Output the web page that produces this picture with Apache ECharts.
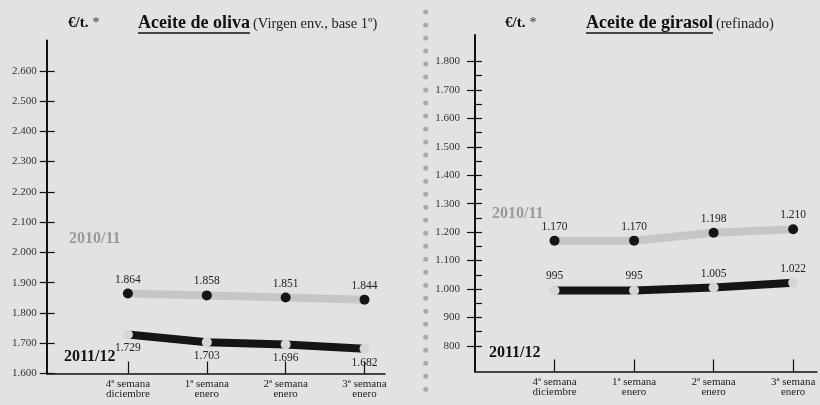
<!DOCTYPE html>
<html><head><meta charset="utf-8">
<script src="https://cdn.jsdelivr.net/npm/echarts@6/dist/echarts.min.js"></script>
<style>html,body{margin:0;padding:0;background:#e1e2e4}#c{width:820px;height:405px}</style>
</head><body><div id="c"></div>
<script>
// ---- data ----
const categories = ['4ª semana\ndiciembre', '1ª semana\nenero', '2ª semana\nenero', '3ª semana\nenero'];
const olive2010 = [1864, 1858, 1851, 1844];
const olive2011 = [1729, 1703, 1696, 1682];
const sun2010 = [1170, 1170, 1198, 1210];
const sun2011 = [995, 995, 1005, 1022];
const oliveTicks = [1600, 1700, 1800, 1900, 2000, 2100, 2200, 2300, 2400, 2500, 2600];
const sunTicks = [800, 900, 1000, 1100, 1200, 1300, 1400, 1500, 1600, 1700, 1800];
const sunHalfTicks = [800, 850, 900, 950, 1000, 1050, 1100, 1150, 1200, 1250, 1300, 1350, 1400, 1450, 1500, 1550, 1600, 1650, 1700, 1750, 1800];
const seasonA = '2010/11';
const seasonB = '2011/12';

const SERIF = '"Liberation Serif", "DejaVu Serif", serif';
const fmt = v => String(v).replace(/\B(?=(\d{3})+(?!\d))/g, '.');
const pts = arr => arr.map((v, i) => [i, v]);

const cv = document.createElement('canvas').getContext('2d');
function tw(font, text) { cv.font = font; return cv.measureText(text).width; }

const chart = echarts.init(document.getElementById('c'), null, { renderer: 'canvas' });

function xAxisCfg(grid, min, max) {
  return {
    type: 'value', gridIndex: grid, min: min, max: max,
    axisLine: { show: true, onZero: false, lineStyle: { color: '#111', width: 1.5 } },
    axisTick: { show: true, inside: true, length: 12, customValues: [0, 1, 2, 3], lineStyle: { color: '#111', width: 1.2 } },
    axisLabel: { customValues: [0, 1, 2, 3], formatter: v => categories[Math.round(v)], margin: 6,
      fontFamily: SERIF, fontSize: 11, lineHeight: 10, color: '#222', align: 'center' },
    splitLine: { show: false }
  };
}
function yOuter(grid, min, max, ticks, margin, len) {
  return {
    type: 'value', gridIndex: grid, min: min, max: max, position: 'left',
    axisLine: { show: true, onZero: false, lineStyle: { color: '#111', width: 2 } },
    axisTick: { show: true, inside: false, length: len, customValues: ticks, lineStyle: { color: '#111', width: 1.2 } },
    axisLabel: { customValues: ticks, formatter: fmt, margin: margin, fontFamily: SERIF, fontSize: 11, color: '#333' },
    splitLine: { show: false }
  };
}
function yInner(grid, min, max, ticks, len) {
  return {
    type: 'value', gridIndex: grid, min: min, max: max, position: 'left', offset: 0,
    axisLine: { show: false, onZero: false },
    axisTick: { show: true, inside: true, length: len, customValues: ticks, lineStyle: { color: '#111', width: 1.2 } },
    axisLabel: { show: false },
    splitLine: { show: false }
  };
}
function lineSeries(name, data, xi, yi, lineColor, dotColor, pos) {
  return {
    type: 'line', name: name, data: pts(data), xAxisIndex: xi, yAxisIndex: yi,
    symbol: 'circle', symbolSize: 10, showAllSymbol: true,
    lineStyle: { color: lineColor, width: 8 },
    itemStyle: { color: dotColor },
    label: { show: true, position: pos, distance: 3, formatter: p => fmt(p.value[1]),
      fontFamily: SERIF, fontSize: 11.5, color: '#222' },
    emphasis: { disabled: true },
    silent: true
  };
}

const titleFont = 'bold 18px ' + SERIF;
const subFont = '14.5px ' + SERIF;
function titleGroup(unitX, titleX, title, sub) {
  const w = tw(titleFont, title);
  return [
    { type: 'text', left: unitX, top: 16, style: { text: '€/t.', font: 'bold 15px ' + SERIF, fill: '#111' } },
    { type: 'text', left: unitX + tw('bold 15px ' + SERIF, '€/t.') + 4, top: 16, style: { text: '*', font: '14px ' + SERIF, fill: '#333' } },
    { type: 'text', left: titleX, top: 14, style: { text: title, font: titleFont, fill: '#111' } },
    { type: 'text', left: titleX + w + 3, top: 17, style: { text: sub, font: subFont, fill: '#222' } },
    { type: 'line', shape: { x1: titleX, y1: 33, x2: titleX + w, y2: 33 }, style: { stroke: '#111', lineWidth: 1.4 } }
  ];
}

const option = {
  backgroundColor: '#e1e2e4',
  animation: false,
  grid: [
    { left: 46.7, top: 40.5, width: 338.3, height: 333 },
    { left: 475, top: 35, width: 342, height: 336.5 }
  ],
  xAxis: [ xAxisCfg(0, -1.03, 3.26), xAxisCfg(1, -1.0, 3.30) ],
  yAxis: [
    yOuter(0, 1600, 2700, oliveTicks, 10, 7),
    yInner(0, 1600, 2700, oliveTicks, 8),
    yOuter(1, 710, 1893, sunTicks, 15, 8),
    yInner(1, 710, 1893, sunHalfTicks, 7)
  ],
  series: [
    lineSeries(seasonA, olive2010, 0, 0, '#c6c6c6', '#151515', 'top'),
    lineSeries(seasonB, olive2011, 0, 0, '#151515', '#d6d6d6', 'bottom'),
    lineSeries(seasonA, sun2010, 1, 2, '#c6c6c6', '#151515', 'top'),
    lineSeries(seasonB, sun2011, 1, 2, '#151515', '#d6d6d6', 'top')
  ],
  graphic: [
    { type: 'line', shape: { x1: 425.7, y1: 12, x2: 425.7, y2: 400 },
      style: { stroke: '#a9a9a9', lineWidth: 5, lineCap: 'round', lineDash: [0.01, 13] } },
    ...titleGroup(68, 138, 'Aceite de oliva', '(Virgen env., base 1º)'),
    ...titleGroup(505, 586, 'Aceite de girasol', '(refinado)'),
    { type: 'text', left: 69, top: 231, style: { text: seasonA, font: 'bold 16px ' + SERIF, fill: '#9a9a9a' } },
    { type: 'text', left: 64, top: 349, style: { text: seasonB, font: 'bold 16px ' + SERIF, fill: '#111' } },
    { type: 'text', left: 492, top: 206, style: { text: seasonA, font: 'bold 16px ' + SERIF, fill: '#9a9a9a' } },
    { type: 'text', left: 489, top: 345, style: { text: seasonB, font: 'bold 16px ' + SERIF, fill: '#111' } }
  ]
};
chart.setOption(option);
</script></body></html>
